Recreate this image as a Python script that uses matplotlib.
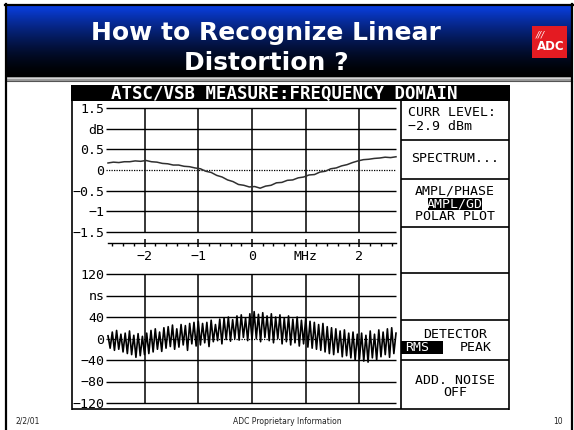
import numpy as np
import matplotlib
matplotlib.use("Agg")
import matplotlib.pyplot as plt
from matplotlib.patches import Rectangle

W, H = 574, 430
MONO = "DejaVu Sans Mono"

# amplitude response (dB), evenly spaced over the channel
amp_db = [0.17, 0.19, 0.18, 0.20, 0.20, 0.22, 0.21, 0.23, 0.20, 0.19,
          0.16, 0.15, 0.12, 0.12, 0.09, 0.08, 0.05, 0.03, -0.03, -0.06,
          -0.13, -0.17, -0.24, -0.28, -0.35, -0.37, -0.41, -0.40, -0.44, -0.39,
          -0.37, -0.31, -0.30, -0.25, -0.24, -0.19, -0.17, -0.12, -0.11, -0.05,
          -0.03, 0.03, 0.05, 0.10, 0.13, 0.18, 0.22, 0.25, 0.26, 0.28,
          0.29, 0.31, 0.30, 0.32]
freq_amp = np.linspace(-2.68, 2.68, len(amp_db))

# group delay (ns)
gd_ns = [5, -18, 12, -22, 15, -20, 8, -25, 10, -28, 14, -30, 6, -35, 9, -32, 4,
         -30, 10, -28, 15, -25, 18, -20, 12, -24, 20, -18, 22, -15, 25, -20, 18,
         -16, 26, -12, 24, -22, 28, -10, 30, -14,
         32, -12, 28, -8, 30, -15, 34, -6, 26, -4, 36, -10, 38, -2, 40, -5, 35,
         0, 42, -3, 44, 2, 38, -4, 46,
         -2, 50, 0, 45, -6, 48, 2, 42, -4, 46, -8, 40, 0, 44, -10, 38, -6, 42,
         -12, 36, -8, 40, -14, 34, -10,
         38, -16, 32, -18, 30, -20, 26, -22, 28, -25, 22, -28, 20, -30, 18, -26,
         14, -34, 16, -32, 10, -36, 12, -40, 8,
         -38, 10, -42, 6, -44, 14, -36, 8, -40, 16, -34, 12, -30, 18, -35, 20,
         -28, 10]
freq_gd = np.linspace(-2.68, 2.68, len(gd_ns))

amp_ticks = [1.5, 1.0, 0.5, 0.0, -0.5, -1.0, -1.5]
amp_labels = ["1.5", "dB", "0.5", "0", "−0.5", "−1", "−1.5"]
gd_ticks = [120, 80, 40, 0, -40, -80, -120]
gd_labels = ["120", "ns", "40", "0", "−40", "−80", "−120"]
freq_ticks = [-2, -1, 0, 1, 2]
freq_labels = ["−2", "−1", "0", "MHz", "2"]
freq_minor = [-2.6, -2.4, -2.2, -1.8, -1.6, -1.4, -1.2, -0.8, -0.6, -0.4, -0.2,
              0.2, 0.4, 0.6, 0.8, 1.2, 1.4, 1.6, 1.8, 2.2, 2.4, 2.6]
XLIM = (-2.68, 2.68)

title_lines = ["How to Recognize Linear", "Distortion ?"]
screen_title = "ATSC/VSB MEASURE:FREQUENCY DOMAIN"
footer = ["2/2/01", "ADC Proprietary Information", "10"]


def px(x0, y0, x1, y1):
    # pixel box (top-left origin) -> figure rect
    return [x0 / W, 1 - y1 / H, (x1 - x0) / W, (y1 - y0) / H]


fig = plt.figure(figsize=(W / 100, H / 100), dpi=100)
fig.patch.set_facecolor("white")

bg = fig.add_axes([0, 0, 1, 1], zorder=0)
bg.axis("off")

# slide title band: blue fading to black
t = np.linspace(0, 1, 120)[:, None]
top_col = np.array([10, 64, 228]) / 255
band = top_col * (1 - t[..., None]) ** 1.5
bg.imshow(band, extent=[6, 572, 77, 5], aspect="auto", interpolation="bilinear")
bg.add_patch(Rectangle((6, 77), 566, 4, color="#9a9a9a", lw=0))
bg.plot([6, 572], [78, 78], color="#d4d4d4", lw=0.8)
bg.plot([6, 572], [81, 81], color="#555555", lw=0.8)
bg.plot([6, 6], [4, 430], color="black", lw=1.6)
bg.plot([572, 572], [4, 430], color="black", lw=1.6)
bg.plot([5, 573], [5, 5], color="black", lw=1.6)

bg.text(266, 40, title_lines[0], color="white", fontsize=18, weight="bold",
        ha="center", va="baseline")
bg.text(266, 70, title_lines[1], color="white", fontsize=18, weight="bold",
        ha="center", va="baseline")

# ADC logo
bg.add_patch(Rectangle((532, 26), 35, 32, color="#e41b22", lw=0))
bg.text(540, 35, "///", color="white", fontsize=6.5, style="italic",
        ha="center", va="center")
bg.text(551, 47, "ADC", color="white", fontsize=8.5, weight="bold",
        ha="center", va="center")

# footer
bg.text(16, 421, footer[0], fontsize=5.5, color="#222222", ha="left", va="center")
bg.text(287, 421, footer[1], fontsize=5.5, color="#222222", ha="center", va="center")
bg.text(563, 421, footer[2], fontsize=5.5, color="#222222", ha="right", va="center")

# instrument screen frame
bg.add_patch(Rectangle((71, 85), 439, 16, color="black", lw=0))
bg.text(284, 93.5, screen_title, color="white", fontsize=12.5, weight="bold",
        family=MONO, ha="center", va="center")
frame = dict(color="black", lw=1.2, solid_capstyle="butt")
bg.plot([72, 72], [100, 409.5], **frame)
bg.plot([509, 509], [100, 409.5], **frame)
bg.plot([72, 509], [409, 409], **frame)
bg.plot([401, 401], [100, 409], **frame)
for ys in [140, 179, 227, 273, 320, 360]:
    bg.plot([401, 509], [ys, ys], **frame)

# softkey panel
key = dict(fontsize=9.5, family=MONO, color="black", va="center")
bg.text(408, 113, "CURR LEVEL:", ha="left", **key)
bg.text(408, 127, "−2.9 dBm", ha="left", **key)
bg.text(455, 159, "SPECTRUM...", ha="center", **key)
bg.text(455, 191, "AMPL/PHASE", ha="center", **key)
bg.add_patch(Rectangle((428, 198), 54, 12, color="black", lw=0))
bg.text(455, 204, "AMPL/GD", ha="center", **{**key, "color": "white"})
bg.text(455, 217, "POLAR PLOT", ha="center", **key)
bg.text(455, 334, "DETECTOR", ha="center", **key)
bg.add_patch(Rectangle((401, 341), 42, 13, color="black", lw=0))
bg.text(417, 347.5, "RMS", ha="center", **{**key, "color": "white"})
bg.text(476, 347.5, "PEAK", ha="center", **key)
bg.text(455, 380, "ADD. NOISE", ha="center", **key)
bg.text(455, 393, "OFF", ha="center", **key)

bg.set_xlim(0, W)
bg.set_ylim(H, 0)


def grid_axes(rect, ylim, ticks, labels, zero_dotted=True):
    ax = fig.add_axes(rect, zorder=2)
    ax.patch.set_alpha(0)
    for s in ax.spines.values():
        s.set_visible(False)
    ax.set_xlim(*XLIM)
    ax.set_ylim(*ylim)
    for v in ticks:
        if v == 0 and zero_dotted:
            ax.plot([-2.72, XLIM[1]], [0, 0], color="black", lw=0.9,
                    ls=(0, (1, 1)), clip_on=False)
        else:
            ax.plot([-2.72, XLIM[1]], [v, v], color="black", lw=1.0,
                    clip_on=False, solid_capstyle="butt")
    for f in freq_ticks:
        ax.axvline(f, color="black", lw=1.1)
    ax.set_xticks([])
    ax.set_yticks(ticks)
    ax.set_yticklabels(labels, family=MONO, fontsize=9.5)
    ax.tick_params(axis="y", length=0, pad=2.5)
    return ax


ax1 = grid_axes(px(108, 108, 396, 232), (-1.5, 1.5), amp_ticks, amp_labels)
ax1.plot(freq_amp, amp_db, color="#303030", lw=1.1, clip_on=False)

ax2 = grid_axes(px(108, 274, 396, 403), (-120, 120), gd_ticks, gd_labels)
ax2.plot(freq_gd, gd_ns, color="black", lw=1.2, clip_on=False)

# frequency scale between the two panels
axf = fig.add_axes(px(108, 238, 396, 243), zorder=2)
axf.patch.set_alpha(0)
for side in ["top", "left", "right"]:
    axf.spines[side].set_visible(False)
axf.spines["bottom"].set_linewidth(1.0)
axf.set_xlim(*XLIM)
axf.set_yticks([])
axf.set_xticks(freq_ticks)
axf.set_xticklabels(freq_labels, family=MONO, fontsize=9.5)
axf.set_xticks(freq_minor, minor=True)
axf.tick_params(axis="x", which="major", direction="inout", length=6,
                width=1.1, pad=2)
axf.tick_params(axis="x", which="minor", direction="out", length=2, width=1.0)

fig.savefig("out.png", dpi=100)
